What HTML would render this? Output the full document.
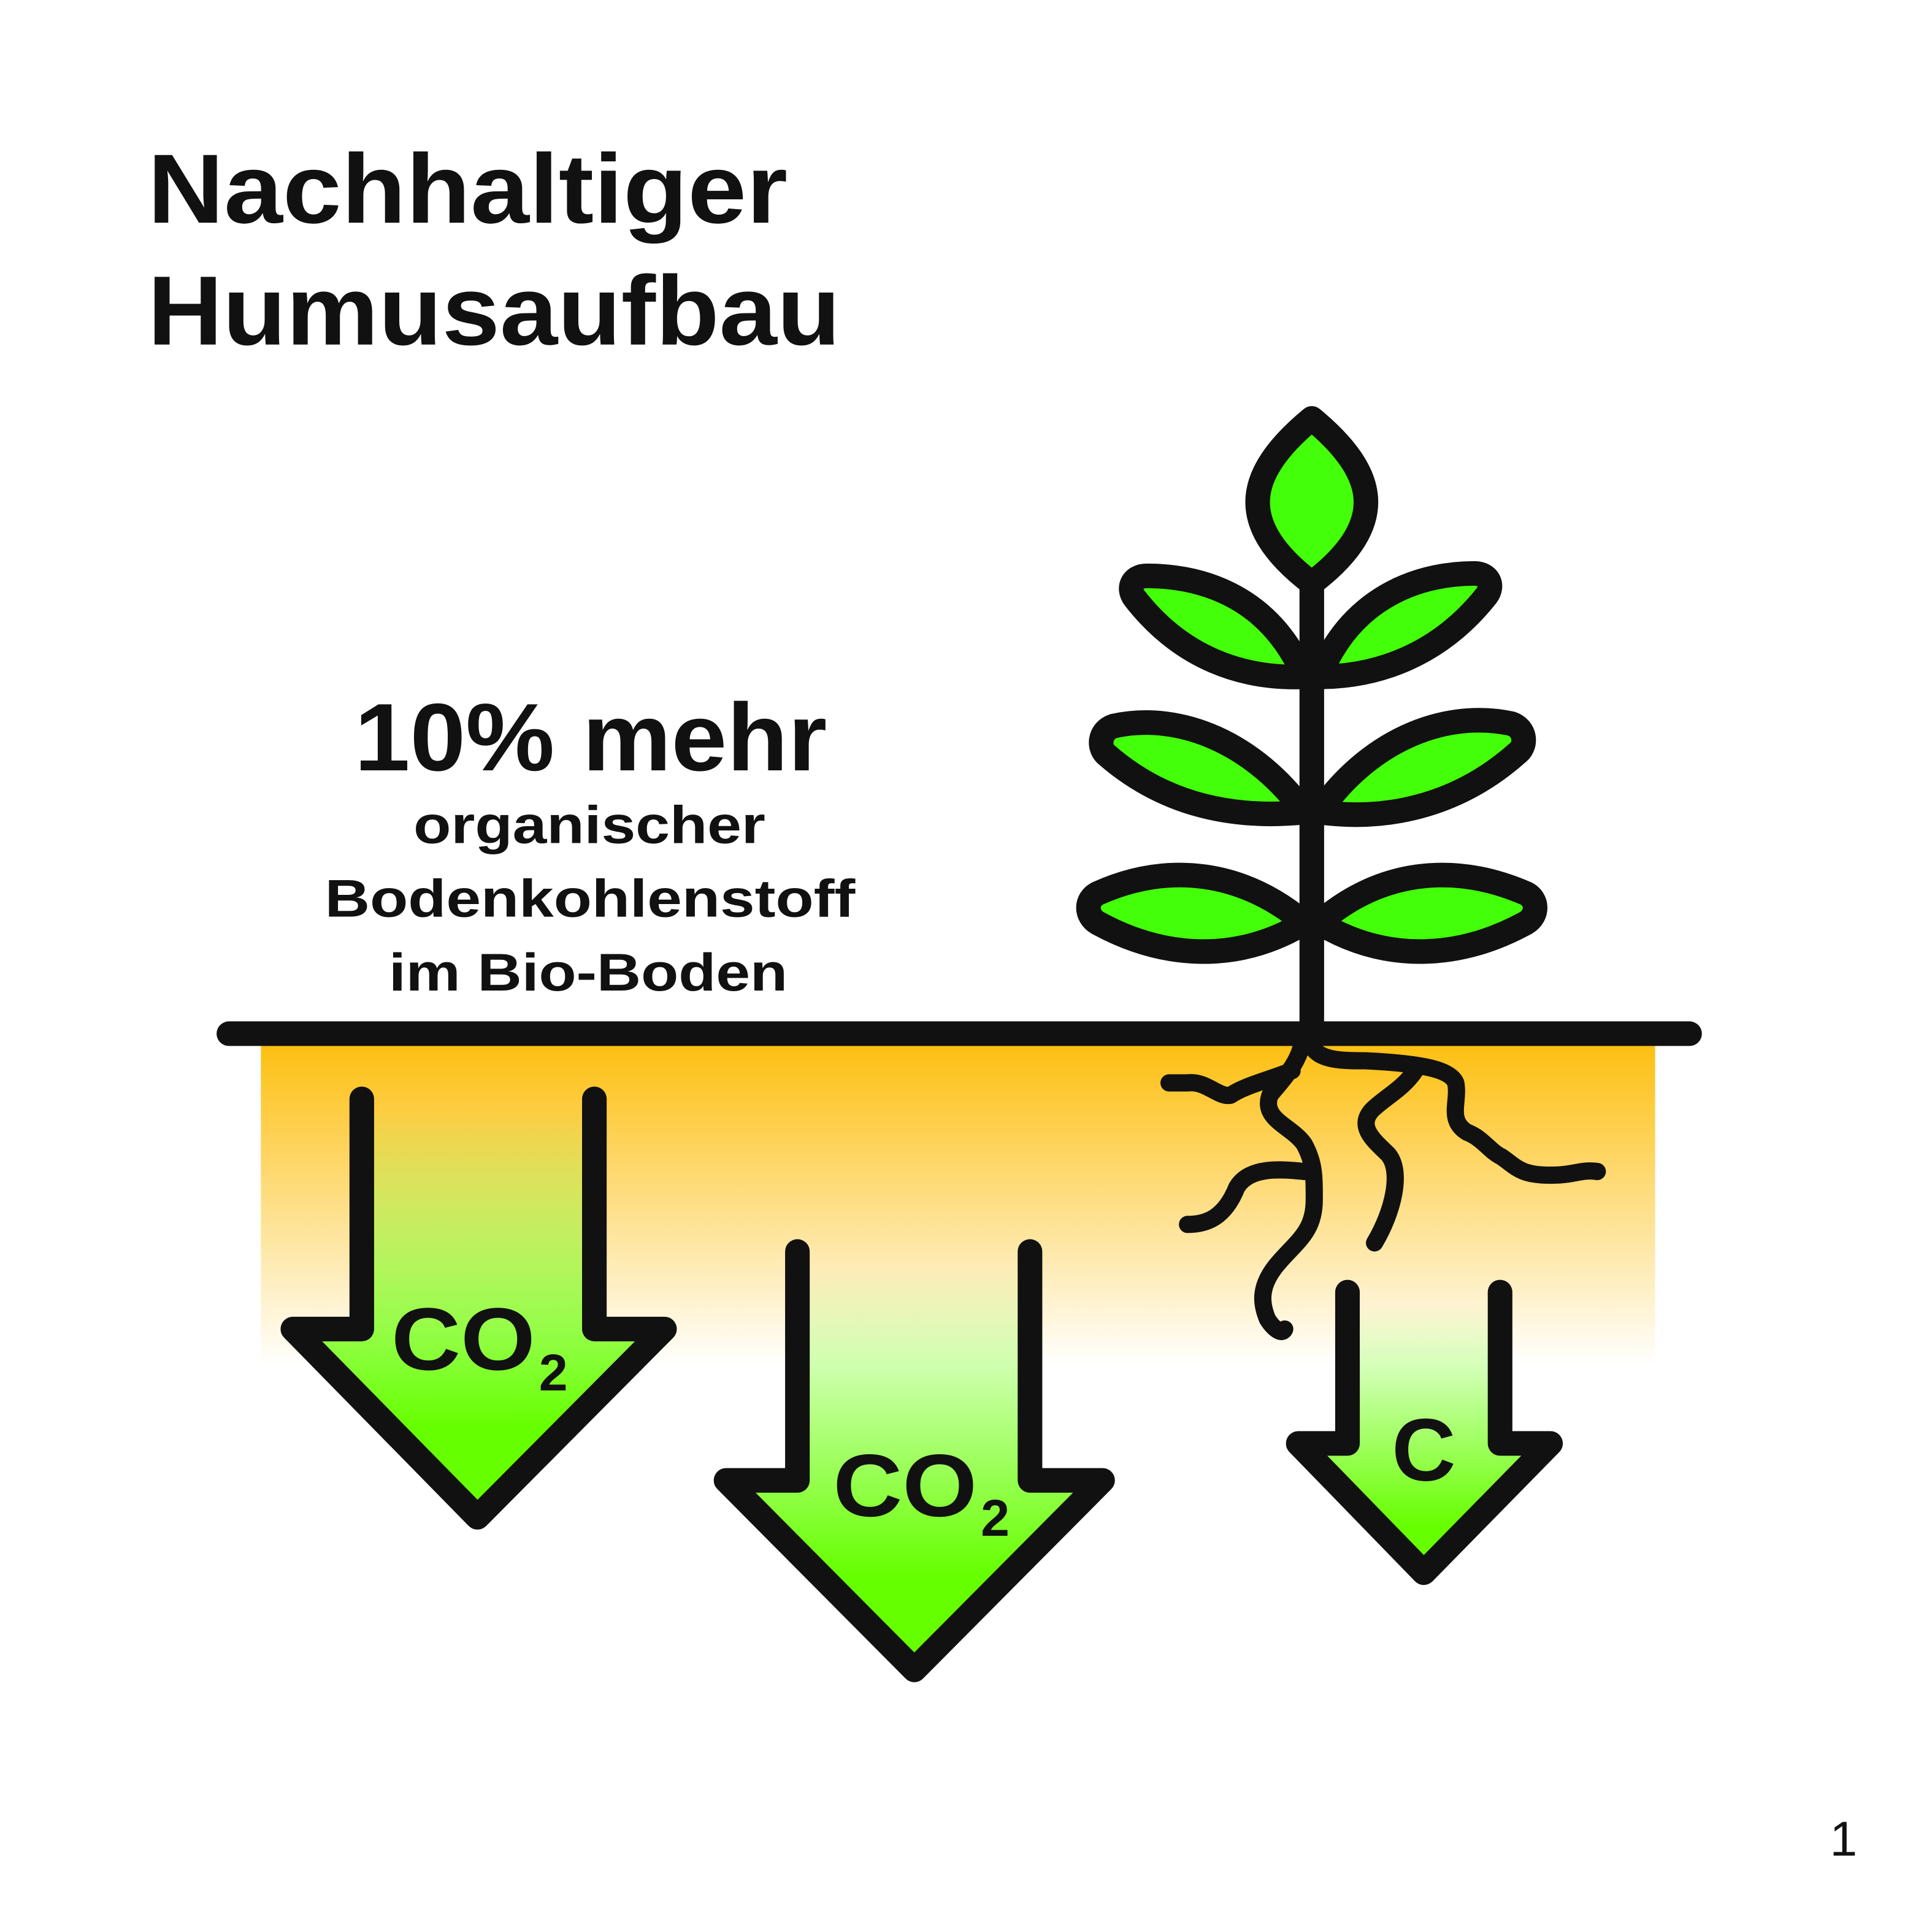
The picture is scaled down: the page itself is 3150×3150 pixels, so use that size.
<!DOCTYPE html>
<html><head><meta charset="utf-8"><style>html,body{margin:0;padding:0;background:#fff}svg{display:block}</style></head><body>
<svg width="3150" height="3150" viewBox="0 0 1570 1570" xmlns="http://www.w3.org/2000/svg">
<defs>
<linearGradient id="soil" x1="0" y1="0" x2="0" y2="1"><stop offset="0" stop-color="#fdbf10"/><stop offset="1" stop-color="#fff"/></linearGradient>
<linearGradient id="g1" gradientUnits="userSpaceOnUse" x1="0" y1="900" x2="0" y2="1160"><stop offset="0" stop-color="#66ff00" stop-opacity="0"/><stop offset="1" stop-color="#66ff00"/></linearGradient>
<linearGradient id="g2" gradientUnits="userSpaceOnUse" x1="0" y1="1030" x2="0" y2="1280"><stop offset="0" stop-color="#66ff00" stop-opacity="0"/><stop offset="1" stop-color="#66ff00"/></linearGradient>
<linearGradient id="g3" gradientUnits="userSpaceOnUse" x1="0" y1="1060" x2="0" y2="1240"><stop offset="0" stop-color="#66ff00" stop-opacity="0"/><stop offset="1" stop-color="#66ff00"/></linearGradient>
</defs>
<rect x="212" y="848" width="1133" height="262" fill="url(#soil)"/>
<g font-family="Liberation Sans, sans-serif" font-weight="bold" fill="#111">
<text x="120" y="181" font-size="80" textLength="520" lengthAdjust="spacingAndGlyphs">Nachhaltiger</text>
<text x="120" y="280" font-size="80" textLength="563" lengthAdjust="spacingAndGlyphs">Humusaufbau</text>
<text x="288" y="626" font-size="78" textLength="384" lengthAdjust="spacingAndGlyphs">10% mehr</text>
<text x="336" y="685" font-size="43" textLength="286" lengthAdjust="spacingAndGlyphs">organischer</text>
<text x="264" y="745" font-size="43" textLength="431" lengthAdjust="spacingAndGlyphs">Bodenkohlenstoff</text>
<text x="316" y="805" font-size="43" textLength="324" lengthAdjust="spacingAndGlyphs">im Bio-Boden</text>
</g>
<g stroke="#111" stroke-width="20" stroke-linejoin="round" stroke-linecap="round">
<path d="M294,893 V1080 H238 L388,1233 L540,1080 H483 V893" fill="url(#g1)"/>
<path d="M648,1017 V1203 H590 L743,1357 L896,1203 H837 V1017" fill="url(#g2)"/>
<path d="M1095,1050 V1173 H1055 L1157,1278 L1260,1173 H1219 V1050" fill="url(#g3)"/>
<line x1="186" y1="840" x2="1373" y2="840"/>
<line x1="1066" y1="470" x2="1066" y2="840"/>
<path d="M1066,340 C1100,368 1110,390 1110,408 C1110,430 1095,452 1066,474 C1037,452 1022,430 1022,408 C1022,390 1032,368 1066,340Z" fill="#44ff0a"/>
<path d="M1060,550 C1030,480 970,468 932,468 C920,468 916,478 922,486 C960,535 1010,552 1060,550Z" fill="#44ff0a"/>
<path d="M1072,550 C1100,480 1160,466 1198,466 C1210,466 1214,476 1208,484 C1170,532 1120,550 1072,550Z" fill="#44ff0a"/>
<path d="M1060,660 C1020,605 960,578 905,590 C893,594 892,608 900,614 C945,653 1000,666 1060,660Z" fill="#44ff0a"/>
<path d="M1072,660 C1110,605 1170,576 1228,588 C1240,592 1241,606 1233,612 C1188,652 1132,668 1072,660Z" fill="#44ff0a"/>
<path d="M1060,750 C1010,708 950,700 892,726 C882,731 882,744 892,750 C945,779 1005,783 1060,750Z" fill="#44ff0a"/>
<path d="M1072,750 C1120,708 1180,700 1240,726 C1250,731 1250,744 1240,750 C1187,779 1127,783 1072,750Z" fill="#44ff0a"/>
</g>
<g stroke="#111" stroke-width="14" fill="none" stroke-linecap="round" stroke-linejoin="round">
<path d="M1058,848 C1055,865 1040,880 1032,890 C1025,910 1050,915 1060,930 C1068,945 1068,955 1068,975 C1068,1000 1055,1008 1040,1025 C1022,1045 1025,1060 1030,1072 C1035,1080 1042,1085 1044,1080"/>
<path d="M1065,848 C1070,862 1090,862 1110,862 C1150,864 1178,868 1183,880 C1186,895 1176,910 1192,920 C1205,925 1210,935 1220,940 C1232,948 1235,955 1260,955 C1280,955 1285,950 1298,952"/>
<path d="M1050,870 C1030,878 1012,882 1000,890 C990,892 980,878 965,880 L950,880"/>
<path d="M1060,952 C1040,950 1015,948 1005,965 C995,990 980,995 965,995"/>
<path d="M1150,870 C1140,885 1125,892 1115,902 C1102,916 1118,928 1128,938 C1140,952 1132,985 1117,1010"/>
</g>
<text x="1487" y="1508" font-family="Liberation Sans, sans-serif" font-size="40" fill="#111">1</text>
<g font-family="Liberation Sans, sans-serif" font-weight="bold" fill="#111">
<text x="318" y="1113" font-size="72" textLength="117" lengthAdjust="spacingAndGlyphs">CO</text><text x="438" y="1130" font-size="42">2</text>
<text x="677" y="1232" font-size="72" textLength="117" lengthAdjust="spacingAndGlyphs">CO</text><text x="797" y="1248" font-size="42">2</text>
<text x="1131" y="1203" font-size="72">C</text>
</g>
</svg>
</body></html>
